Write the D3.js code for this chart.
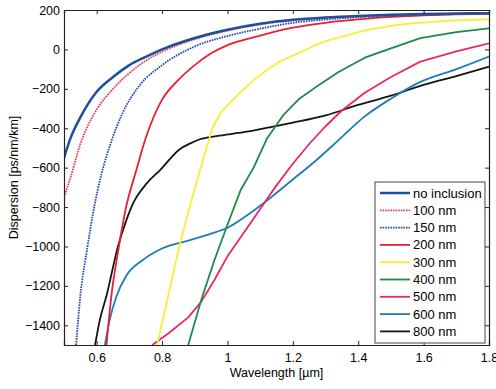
<!DOCTYPE html>
<html>
<head>
<meta charset="utf-8">
<script src="https://cdn.jsdelivr.net/npm/d3@7"></script>
<style>
  body { margin: 0; background: #fff; }
  svg text { font-family: "Liberation Sans", Arial, sans-serif; fill: #000; }
</style>
</head>
<body>
<div id="chart"></div>
<script>
// values (wavelength in um, dispersion in ps/nm/km)
var noInclusion = [[0.5,-550],[0.52,-450],[0.55,-345],[0.6,-215],[0.65,-140],[0.7,-80],[0.75,-38],[0.8,0],[0.9,58],[1.0,100],[1.1,130],[1.2,150],[1.3,162],[1.4,170],[1.5,176],[1.6,180],[1.7,182],[1.8,184]];
var nm100 = [[0.5,-750],[0.52,-650],[0.55,-480],[0.6,-305],[0.65,-200],[0.7,-120],[0.75,-57],[0.8,-12],[0.9,52],[1.0,95],[1.1,127],[1.2,147],[1.3,160],[1.4,168],[1.5,174],[1.6,178],[1.7,181],[1.8,183]];
var nm150 = [[0.537,-1500],[0.55,-1250],[0.57,-1020],[0.59,-820],[0.615,-630],[0.64,-490],[0.68,-320],[0.73,-185],[0.8,-80],[0.9,15],[1.0,68],[1.1,105],[1.2,135],[1.3,152],[1.4,163],[1.5,170],[1.6,175],[1.7,179],[1.8,182]];
var nm200 = [[0.63,-1500],[0.645,-1250],[0.665,-1030],[0.69,-800],[0.72,-620],[0.75,-450],[0.8,-255],[0.85,-155],[0.9,-80],[0.95,-20],[1.0,22],[1.1,70],[1.2,110],[1.3,135],[1.4,152],[1.5,165],[1.6,173],[1.7,178],[1.8,181]];
var nm300 = [[0.785,-1500],[0.82,-1240],[0.855,-985],[0.89,-765],[0.92,-590],[0.955,-395],[0.98,-320],[1.02,-250],[1.07,-170],[1.12,-105],[1.16,-62],[1.26,15],[1.3,42],[1.42,97],[1.5,120],[1.57,133],[1.7,147],[1.8,153]];
var nm400 = [[0.88,-1500],[0.92,-1270],[0.96,-1070],[1.0,-890],[1.04,-715],[1.08,-600],[1.12,-455],[1.17,-335],[1.22,-250],[1.28,-180],[1.34,-115],[1.42,-42],[1.5,5],[1.59,57],[1.7,88],[1.8,107]];
var nm500 = [[0.77,-1500],[0.82,-1440],[0.88,-1360],[0.92,-1280],[0.96,-1170],[1.0,-1050],[1.05,-930],[1.1,-810],[1.15,-690],[1.2,-580],[1.25,-480],[1.3,-390],[1.35,-310],[1.42,-220],[1.5,-140],[1.59,-62],[1.7,-10],[1.8,31]];
var nm600 = [[0.625,-1500],[0.64,-1370],[0.66,-1255],[0.69,-1150],[0.74,-1070],[0.8,-1010],[0.88,-970],[0.95,-935],[1.0,-905],[1.07,-830],[1.13,-755],[1.2,-660],[1.27,-565],[1.34,-460],[1.42,-340],[1.5,-250],[1.59,-165],[1.7,-100],[1.8,-36]];
var nm800 = [[0.595,-1500],[0.61,-1370],[0.63,-1250],[0.665,-1000],[0.69,-870],[0.712,-779],[0.753,-680],[0.794,-612],[0.855,-505],[0.885,-478],[0.916,-456],[0.967,-440],[1.05,-420],[1.1,-405],[1.2,-372],[1.3,-335],[1.4,-282],[1.5,-235],[1.6,-180],[1.7,-135],[1.8,-87]];

var seriesNames = ["no inclusion", "100 nm", "150 nm", "200 nm", "300 nm", "400 nm", "500 nm", "600 nm", "800 nm"];
var seriesValues = [noInclusion, nm100, nm150, nm200, nm300, nm400, nm500, nm600, nm800];
var seriesColors = ["#1d4f9a", "#e83a55", "#2448b5", "#ea1f35", "#f6ef35", "#1d8a4a", "#e8286c", "#1f7cb6", "#151515"];
var seriesDashed = [false, true, true, false, false, false, false, false, false];
// the thinner-sampled curves look like polylines in the original
var seriesSmooth = [true, true, true, true, false, false, false, true, true];

var xTicks = [0.6, 0.8, 1, 1.2, 1.4, 1.6, 1.8];
var yTicks = [200, 0, -200, -400, -600, -800, -1000, -1200, -1400];

var w = 496, h = 389;
var pLeft = 64, pRight = 489, pTop = 10, pBottom = 345;

var svg = d3.select("#chart").append("svg")
  .attr("width", w)
  .attr("height", h);

var x = d3.scaleLinear().domain([0.5, 1.8]).range([pLeft, pRight]);
var y = d3.scaleLinear().domain([-1500, 200]).range([pBottom, pTop]);

svg.append("defs").append("clipPath").attr("id", "clip")
  .append("rect")
  .attr("x", pLeft).attr("y", pTop)
  .attr("width", pRight - pLeft).attr("height", pBottom - pTop);

var smoothLine = d3.line()
  .curve(d3.curveMonotoneX)
  .x(function(d) { return x(d[0]); })
  .y(function(d) { return y(d[1]); });
var straightLine = d3.line()
  .x(function(d) { return x(d[0]); })
  .y(function(d) { return y(d[1]); });

// curves, drawn last-first so no inclusion sits on top
var plot = svg.append("g").attr("clip-path", "url(#clip)");
for (var i = seriesValues.length - 1; i >= 0; i--) {
  plot.append("path")
    .attr("d", seriesSmooth[i] ? smoothLine(seriesValues[i]) : straightLine(seriesValues[i]))
    .attr("fill", "none")
    .attr("stroke", seriesColors[i])
    .attr("stroke-width", i == 0 ? 2.5 : 1.8)
    .attr("stroke-dasharray", seriesDashed[i] ? "1.6,1" : null)
    .attr("stroke-linejoin", "round");
}

// box axes with inward ticks on all four sides
var tick = 4;
var axisColor = "#222";
svg.append("g").attr("transform", "translate(0," + pBottom + ")")
  .call(d3.axisBottom(x).tickValues(xTicks).tickSize(-tick).tickPadding(8).tickFormat(d3.format("")));
svg.append("g").attr("transform", "translate(0," + pTop + ")")
  .call(d3.axisTop(x).tickValues(xTicks).tickSize(-tick).tickFormat(""));
svg.append("g").attr("transform", "translate(" + pLeft + ",0)")
  .call(d3.axisLeft(y).tickValues(yTicks).tickSize(-tick).tickPadding(4).tickFormat(d3.format("")));
svg.append("g").attr("transform", "translate(" + pRight + ",0)")
  .call(d3.axisRight(y).tickValues(yTicks).tickSize(-tick).tickFormat(""));

svg.selectAll(".domain").attr("stroke", axisColor).attr("stroke-width", 1.2);
svg.selectAll(".tick line").attr("stroke", axisColor);
svg.selectAll(".tick text")
  .style("font-family", "'Liberation Sans', Arial, sans-serif")
  .style("font-size", "12.5px")
  .attr("fill", "#000");

svg.append("text")
  .attr("x", (pLeft + pRight) / 2)
  .attr("y", 377)
  .attr("text-anchor", "middle")
  .style("font-size", "12.5px")
  .text("Wavelength [\u00b5m]");

svg.append("text")
  .attr("transform", "translate(18," + ((pTop + pBottom) / 2) + ") rotate(-90)")
  .attr("text-anchor", "middle")
  .style("font-size", "12.5px")
  .text("Dispersion [ps/nm/km]");

// legend
var lg = svg.append("g");
lg.append("rect")
  .attr("x", 375).attr("y", 182)
  .attr("width", 110).attr("height", 161)
  .attr("fill", "#fff")
  .attr("stroke", "#444")
  .attr("stroke-width", 1);

var legendItems = lg.selectAll("g.legend")
  .data(seriesNames)
  .enter().append("g")
  .attr("class", "legend")
  .attr("transform", function(d, i) { return "translate(0," + (193 + i * 17.3) + ")"; });

legendItems.append("line")
  .attr("x1", 380).attr("x2", 410)
  .attr("y1", 0).attr("y2", 0)
  .attr("stroke", function(d, i) { return seriesColors[i]; })
  .attr("stroke-width", function(d, i) { return i == 0 ? 2.5 : 1.8; })
  .attr("stroke-dasharray", function(d, i) { return seriesDashed[i] ? "1.6,1" : null; });

legendItems.append("text")
  .attr("x", 413)
  .attr("y", 4.5)
  .style("font-size", "13px")
  .text(function(d) { return d; });
</script>
</body>
</html>
